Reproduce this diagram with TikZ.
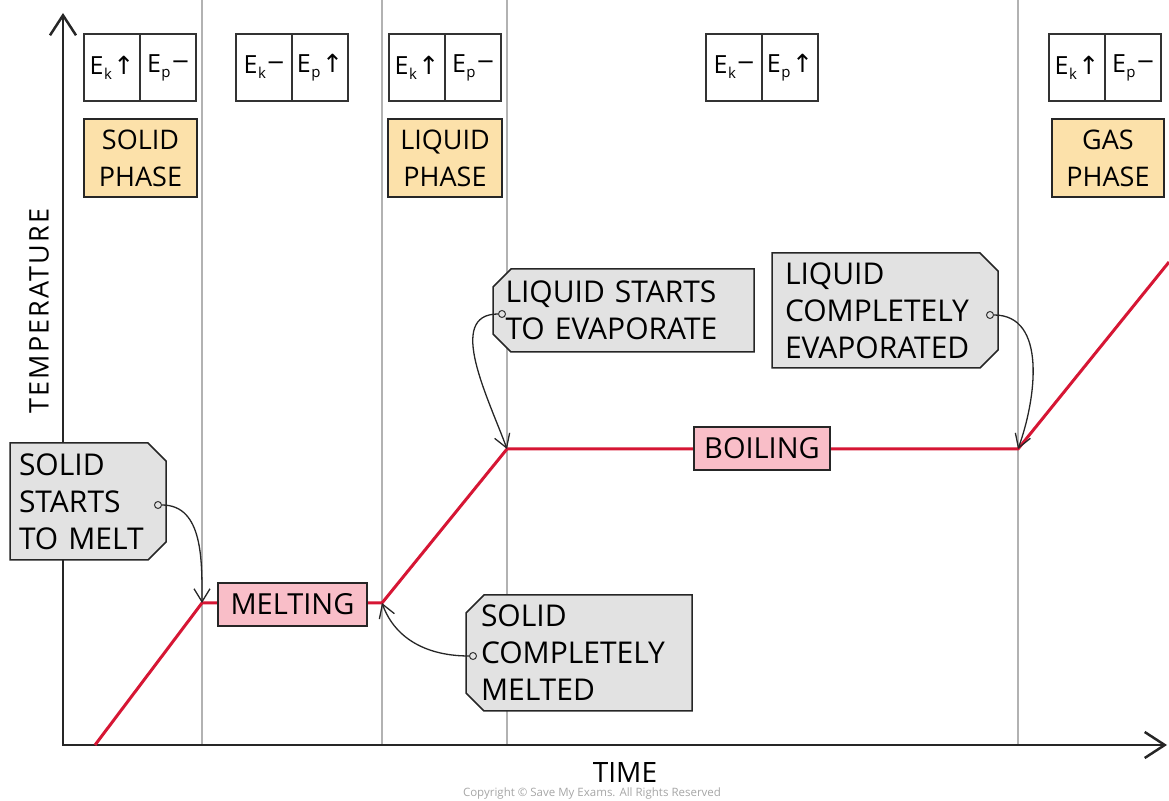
\documentclass[tikz,border=0pt]{standalone}
\usepackage{fontspec}
\setmainfont{Open Sans}
\newfontfamily\symfont{DejaVu Sans}
\usetikzlibrary{arrows.meta,shapes.misc}
\definecolor{curvered}{RGB}{214,22,52}
\definecolor{pinkfill}{RGB}{249,190,200}
\definecolor{phasefill}{RGB}{252,225,170}
\definecolor{calloutfill}{RGB}{226,226,226}
\definecolor{gridgray}{RGB}{178,178,178}
\newcommand\myup{{\symfont ↑}}
\newcommand\mydash{\raisebox{4pt}{\scalebox{1.35}[1]{–}}}
\newcommand\Esub[2]{E\kern0.5pt\raisebox{-5pt}{\fontsize{15}{15}\selectfont #1}\kern1.5pt#2}
\begin{document}
\begin{tikzpicture}[x=1pt,y=1pt,
  vline/.style={draw=gridgray, line width=1.5},
  axisline/.style={draw=black!85, line width=2.5, line join=miter},
  curveline/.style={draw=curvered, line width=3, line join=round},
  ecell/.style={draw=black!80, fill=white, line width=1.3, minimum width=56, minimum height=67, inner sep=0, font=\fontsize{25}{30}\selectfont},
  phasebox/.style={draw=black!85, fill=phasefill, line width=1.5, minimum height=78, inner sep=0, align=center, font=\fontsize{27}{37}\selectfont},
  statebox/.style={draw=black!85, fill=pinkfill, line width=1.5, minimum height=43, inner sep=0, font=\fontsize{29}{34}\selectfont},
  notebox/.style={chamfered rectangle, chamfered rectangle sep=9pt, draw=black!85, fill=calloutfill, line width=1.5, inner sep=0, align=left, font=\fontsize{30}{37}\selectfont},
  dotmark/.style={circle, draw=black!80, fill=calloutfill, line width=1, minimum size=7, inner sep=0},
  leader/.style={draw=black!85, line width=1.3, -{Straight Barb[length=13,width=16]}}
]
\useasboundingbox (0,0) rectangle (1169,800);

% vertical separators
\coordinate (g1t) at (202,800); \coordinate (g1b) at (202,55);
\coordinate (g2t) at (382,800); \coordinate (g2b) at (382,55);
\coordinate (g3t) at (507,800); \coordinate (g3b) at (507,55);
\coordinate (g4t) at (1018,800); \coordinate (g4b) at (1018,55);
\draw[vline] (g1t) -- (g1b);
\draw[vline] (g2t) -- (g2b);
\draw[vline] (g3t) -- (g3b);
\draw[vline] (g4t) -- (g4b);

% axes
\coordinate (O) at (63,55);
\coordinate (ytop) at (63,787);
\coordinate (xend) at (1167,55);
\draw[axisline, {Straight Barb[length=20,width=26]}-{Straight Barb[length=20,width=26]}] (ytop) -- (O) -- (xend);

% heating curve
\coordinate (p0) at (95,55);
\coordinate (p1) at (202,197);
\coordinate (p2) at (382,197);
\coordinate (p3) at (507,351);
\coordinate (p4) at (1018,351);
\coordinate (p5) at (1169,538);
\draw[curveline] (p0) -- (p1) -- (p2) -- (p3) -- (p4) -- (p5);

% state labels on the curve
\node[statebox, minimum width=149] (melt) at (292.5,195.5) {MELTING};
\node[statebox, minimum width=136] (boil) at (762,351.5) {BOILING};

% energy cells
\node[ecell] (ek1) at (112,732.5) {\Esub{k}{\myup}};
\node[ecell] (ep1) at (168,732.5) {\Esub{p}{\mydash}};
\node[ecell] (ek2) at (264,732.5) {\Esub{k}{\mydash}};
\node[ecell] (ep2) at (320,732.5) {\Esub{p}{\myup}};
\node[ecell] (ek3) at (417,732.5) {\Esub{k}{\myup}};
\node[ecell] (ep3) at (473,732.5) {\Esub{p}{\mydash}};
\node[ecell] (ek4) at (734,732.5) {\Esub{k}{\mydash}};
\node[ecell] (ep4) at (790,732.5) {\Esub{p}{\myup}};
\node[ecell] (ek5) at (1077,732.5) {\Esub{k}{\myup}};
\node[ecell] (ep5) at (1133,732.5) {\Esub{p}{\mydash}};

% phase labels
\node[phasebox, minimum width=113] (solid) at (140.5,642) {SOLID\\PHASE};
\node[phasebox, minimum width=114] (liquid) at (445,642) {LIQUID\\PHASE};
\node[phasebox, minimum width=112] (gas) at (1108,642) {GAS\\PHASE};

% callouts
\node[notebox, chamfered rectangle corners={north east,south east}, minimum width=156, minimum height=117, text width=138] (c1) at (88,298.5) {SOLID\\STARTS\\TO MELT};
\node[notebox, chamfered rectangle corners={north west,south west}, minimum width=226, minimum height=116, text width=196] (c2) at (579,147) {SOLID\\COMPLETELY\\MELTED};
\node[notebox, chamfered rectangle corners={north west,south west}, minimum width=261, minimum height=83, text width=236] (c3) at (623.5,489.5) {LIQUID STARTS\\TO EVAPORATE};
\node[notebox, chamfered rectangle corners={north east,south east}, minimum width=226, minimum height=115, text width=200] (c4) at (885,489.5) {LIQUID\\COMPLETELY\\EVAPORATED};

% pins and leaders
\node[dotmark] (d1) at (158,295) {};
\node[dotmark] (d2) at (473,144) {};
\node[dotmark] (d3) at (502,486) {};
\node[dotmark] (d4) at (990,485) {};
\draw[leader] (d1) to[out=0,in=90] (p1);
\draw[leader] (d2) to[out=180,in=-70] (p2);
\draw[leader] (d3) to[out=180,in=110] (p3);
\draw[leader] (d4) to[out=0,in=70] (p4);

% axis titles
\node[rotate=90, font=\fontsize{27}{30}\selectfont\addfontfeatures{LetterSpace=8}] (temp) at (39,489) {TEMPERATURE};
\node[anchor=base, font=\fontsize{28}{30}\selectfont] (time) at (625,18) {TIME};
\node[anchor=base, text=gray!70, font=\fontsize{11.5}{12}\selectfont] (copy) at (592,3.5) {Copyright © Save My Exams. All Rights Reserved};
\end{tikzpicture}
\end{document}
